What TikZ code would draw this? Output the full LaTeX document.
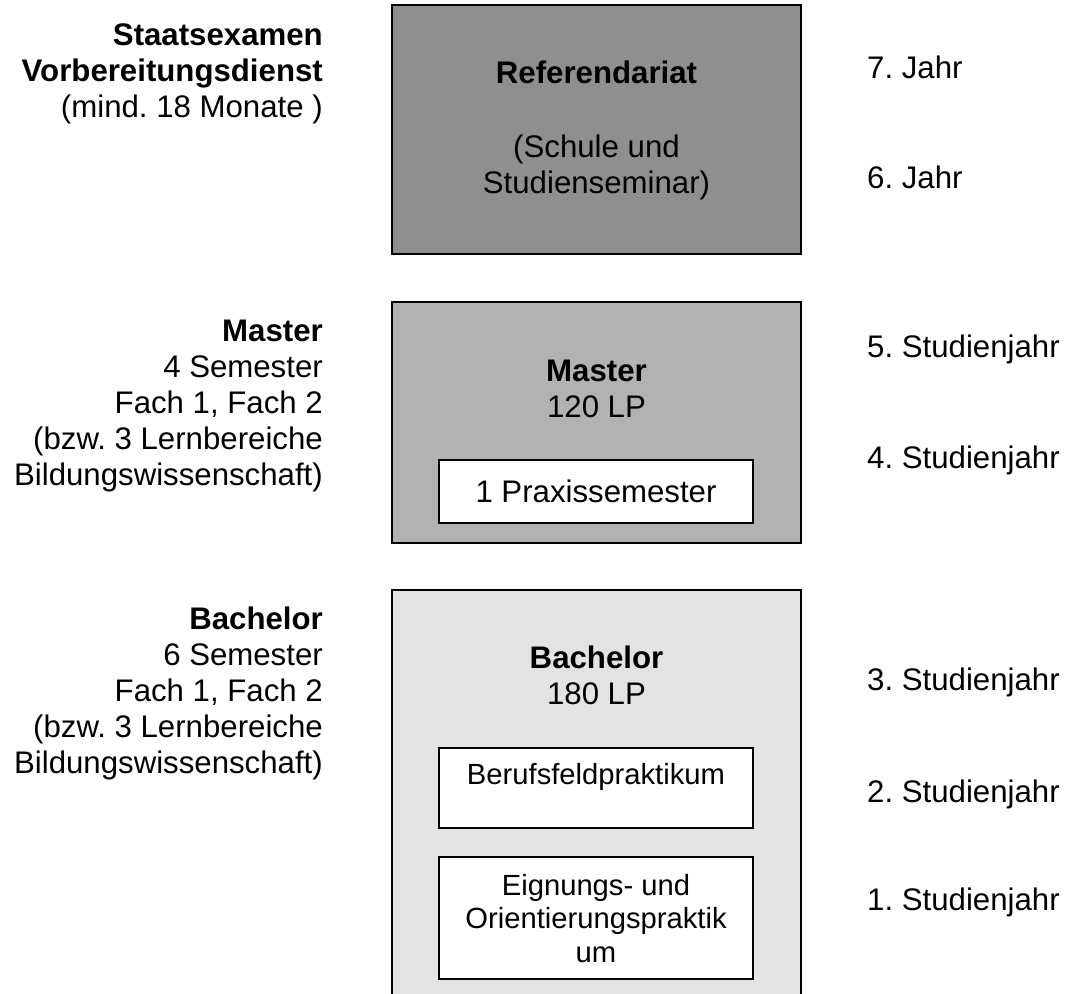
\documentclass[tikz,border=0pt]{standalone}
\usepackage{fontspec}
\setmainfont{Liberation Sans}
\frenchspacing
\definecolor{refgray}{RGB}{143,143,143}
\definecolor{mastergray}{RGB}{178,178,178}
\definecolor{bachgray}{RGB}{227,227,227}
\begin{document}
\begin{tikzpicture}[x=1pt,y=-1pt,
  txt/.style={font=\fontsize{31.2}{35.8}\selectfont, inner sep=0pt},
  smalltxt/.style={font=\fontsize{29.2}{33.5}\selectfont, inner sep=0pt},
  stage/.style={draw=black, line width=1.5pt, inner sep=0pt, minimum width=409pt},
  inbox/.style={draw=black, line width=1.5pt, fill=white, inner sep=0pt, minimum width=314pt},
]
\useasboundingbox (0,0) rectangle (1072,994);
\clip (0,0) rectangle (1072,994);

% stage boxes
\node[stage, fill=refgray, minimum height=249pt] (ref) at (596.5,129.5) {};
\node[stage, fill=mastergray, minimum height=241pt] (master) at (596.5,422.5) {};
\node[stage, fill=bachgray, minimum height=420pt] (bach) at (596.5,800) {};

% inner boxes
\node[inbox, txt, minimum height=63pt] (prax) at (596,491.5) {1 Praxissemester};
\node[inbox, minimum height=80pt] (beruf) at (596,788) {};
\node[inbox, minimum height=122pt] (eign) at (596,918) {};

% texts in boxes (base anchor = baseline of the last line)
\node[txt, anchor=base] (refT) at (596.5,83) {\textbf{Referendariat}};
\node[txt, anchor=base, align=center] (refS) at (596.5,193) {(Schule und\\Studienseminar)};
\node[txt, anchor=base, align=center] (masterT) at (596.5,417) {\textbf{Master}\\120 LP};
\node[txt, anchor=base, align=center] (bachT) at (596.5,704) {\textbf{Bachelor}\\180 LP};
\node[smalltxt, anchor=base] (berufT) at (596,784) {Berufsfeldpraktikum};
\node[smalltxt, anchor=base, align=center] (eignT) at (596,962) {Eignungs- und\\Orientierungspraktik\\um};

% left descriptions
\node[txt, anchor=base east, align=right] (staat) at (323,117)
  {\textbf{Staatsexamen}\\\textbf{Vorbereitungsdienst}\\(mind. 18 Monate )};
\node[txt, anchor=base east, align=right] (masterL) at (323,485)
  {\textbf{Master}\\4 Semester\\Fach 1, Fach 2\\(bzw. 3 Lernbereiche\\Bildungswissenschaft)};
\node[txt, anchor=base east, align=right] (bachL) at (323,773)
  {\textbf{Bachelor}\\6 Semester\\Fach 1, Fach 2\\(bzw. 3 Lernbereiche\\Bildungswissenschaft)};

% years
\node[txt, anchor=base west] (y7) at (867,78) {7. Jahr};
\node[txt, anchor=base west] (y6) at (867,188) {6. Jahr};
\node[txt, anchor=base west] (y5) at (867,357) {5. Studienjahr};
\node[txt, anchor=base west] (y4) at (867,468) {4. Studienjahr};
\node[txt, anchor=base west] (y3) at (867,690) {3. Studienjahr};
\node[txt, anchor=base west] (y2) at (867,802) {2. Studienjahr};
\node[txt, anchor=base west] (y1) at (867,910) {1. Studienjahr};
\end{tikzpicture}
\end{document}
